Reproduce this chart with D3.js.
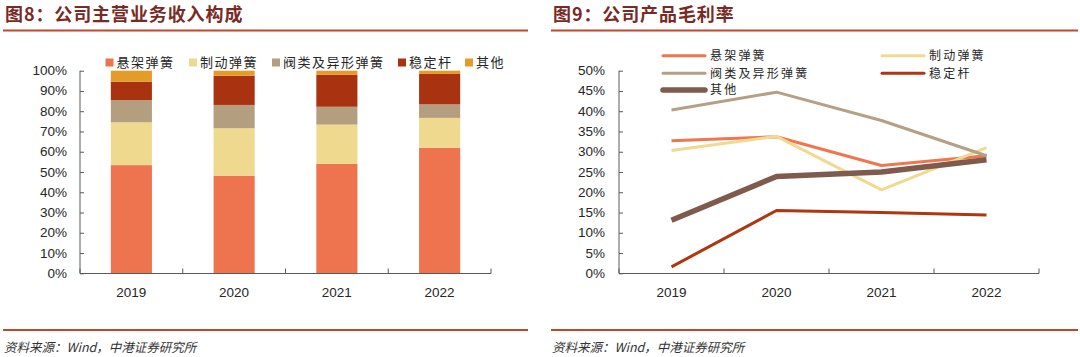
<!DOCTYPE html>
<html><head><meta charset="utf-8">
<script src="https://cdn.jsdelivr.net/npm/d3@7"></script>
<style>
body{margin:0;background:#fff;}
svg{display:block;}
text{font-family:"Liberation Sans",Arial,sans-serif;}
.cjk{font-family:"Noto Sans CJK SC","Liberation Sans",sans-serif;}
</style></head>
<body>
<svg id="c" width="1080" height="357"></svg>
<script>
const years = ["2019","2020","2021","2022"];
const barSeries = ["悬架弹簧","制动弹簧","阀类及异形弹簧","稳定杆","其他"];
const barColors = ["#EE7450","#EFD98F","#B49E80","#A93210","#E49B27"];
const share_suspension = [53.4,48.2,54.0,62.0];
const share_brake = [21.1,23.4,19.4,14.7];
const share_valve = [11.0,11.5,8.8,6.7];
const share_stabilizer = [9.1,14.4,15.8,15.0];
const share_other = [5.4,2.5,2.0,1.6];
const leftTicks = [0,10,20,30,40,50,60,70,80,90,100];

const lineSeries = ["悬架弹簧","制动弹簧","阀类及异形弹簧","稳定杆","其他"];
const lineColors = ["#F07650","#F0DA92","#B5A085","#B0360F","#7E5B4C"];
const lineWidths = [3,3,3,3,5.5];
const margin_suspension = [32.7,33.7,26.6,29.0];
const margin_brake = [30.3,33.8,20.6,31.0];
const margin_valve = [40.3,44.7,37.7,29.0];
const margin_stabilizer = [1.6,15.5,15.0,14.4];
const margin_other = [13.1,23.9,25.0,28.0];
const rightTicks = [0,5,10,15,20,25,30,35,40,45,50];

const svg = d3.select("#c");
const titleColor = "#7A2A24";
const ruleColor = "#C0472C";
const axisColor = "#5A5A5A";
const labelColor = "#262626";

function header(x0, x1, title){
  svg.append("text").attr("class","cjk").attr("x",x0+1).attr("y",21)
    .attr("font-size",18).attr("letter-spacing",0.9).attr("font-weight","bold").attr("fill",titleColor).text(title);
  svg.append("rect").attr("x",x0-1).attr("y",29.5).attr("width",x1-x0+2).attr("height",2).attr("fill",ruleColor);
  svg.append("rect").attr("x",x0-1).attr("y",329).attr("width",x1-x0+2).attr("height",2).attr("fill",ruleColor);
  svg.append("text").attr("class","cjk").attr("x",x0).attr("y",352)
    .attr("font-size",12.5).attr("font-style","italic").attr("fill","#333")
    .text("资料来源：Wind，中港证券研究所");
}
header(4,527,"图8：公司主营业务收入构成");
header(552,1077,"图9：公司产品毛利率");

// ---------- Left stacked bars ----------
{
  const x = d3.scaleBand().domain(years).range([80,491]).paddingInner(0.6).paddingOuter(0.3);
  const y = d3.scaleLinear().domain([0,100]).range([273.3,70.7]);
  const rows = years.map((yr,i)=>({year:yr,
    "悬架弹簧":share_suspension[i],"制动弹簧":share_brake[i],"阀类及异形弹簧":share_valve[i],
    "稳定杆":share_stabilizer[i],"其他":share_other[i]}));
  const stack = d3.stack().keys(barSeries)(rows);
  const g = svg.append("g");
  stack.forEach((s,si)=>{
    g.selectAll(null).data(s).enter().append("rect")
      .attr("x",d=>x(d.data.year)).attr("width",x.bandwidth())
      .attr("y",d=>y(Math.min(d[1],100))).attr("height",d=>y(d[0])-y(Math.min(d[1],100)))
      .attr("fill",barColors[si]);
  });
  const ya = svg.append("g").attr("transform","translate(80,0)")
    .call(d3.axisRight(y).tickValues(leftTicks).tickSize(4).tickFormat(""));
  ya.select(".domain").attr("stroke",axisColor).attr("d",`M0,${y(100)}V${y(0)}`);
  ya.selectAll(".tick line").attr("stroke",axisColor);
  svg.selectAll(null).data(leftTicks).enter().append("text")
    .attr("x",67).attr("y",d=>y(d)+4.5).attr("text-anchor","end")
    .attr("font-size",13.5).attr("fill",labelColor).text(d=>d+"%");
  const step = x.step();
  svg.append("line").attr("x1",80).attr("x2",491).attr("y1",273.5).attr("y2",273.5).attr("stroke",axisColor);
  d3.range(5).forEach(i=>{
    svg.append("line").attr("x1",80+i*step).attr("x2",80+i*step).attr("y1",268.5).attr("y2",273.5).attr("stroke",axisColor);
  });
  svg.selectAll(null).data(years).enter().append("text")
    .attr("x",d=>x(d)+x.bandwidth()/2).attr("y",297).attr("text-anchor","middle")
    .attr("font-size",13.5).attr("fill",labelColor).text(d=>d);
  const lx = [105.5,189,272,398,465];
  barSeries.forEach((s,i)=>{
    svg.append("rect").attr("x",lx[i]).attr("y",58.5).attr("width",8).attr("height",8).attr("fill",barColors[i]);
    svg.append("text").attr("class","cjk").attr("x",lx[i]+11).attr("y",67).attr("font-size",13)
      .attr("letter-spacing",1.5).attr("fill",labelColor).text(s);
  });
}

// ---------- Right line chart ----------
{
  const x = d3.scalePoint().domain(years).range([619,1039]).padding(0.5);
  const y = d3.scaleLinear().domain([0,50]).range([273.3,70.7]);
  const ya = svg.append("g").attr("transform","translate(619,0)")
    .call(d3.axisRight(y).tickValues(rightTicks).tickSize(4).tickFormat(""));
  ya.select(".domain").attr("stroke",axisColor).attr("d",`M0,${y(50)}V${y(0)}`);
  ya.selectAll(".tick line").attr("stroke",axisColor);
  svg.selectAll(null).data(rightTicks).enter().append("text")
    .attr("x",605).attr("y",d=>y(d)+4.5).attr("text-anchor","end")
    .attr("font-size",13.5).attr("fill",labelColor).text(d=>d+"%");
  svg.append("line").attr("x1",619).attr("x2",1039).attr("y1",273.5).attr("y2",273.5).attr("stroke",axisColor);
  const step = x.step();
  d3.range(5).forEach(i=>{
    svg.append("line").attr("x1",619+i*step).attr("x2",619+i*step).attr("y1",268.5).attr("y2",273.5).attr("stroke",axisColor);
  });
  svg.selectAll(null).data(years).enter().append("text")
    .attr("x",d=>x(d)).attr("y",297).attr("text-anchor","middle")
    .attr("font-size",13.5).attr("fill",labelColor).text(d=>d);
  const data = [margin_suspension,margin_brake,margin_valve,margin_stabilizer,margin_other];
  const line = d3.line().x((d,i)=>x(years[i])).y(d=>y(d));
  data.forEach((arr,i)=>{
    svg.append("path").attr("d",line(arr)).attr("fill","none")
      .attr("stroke",lineColors[i]).attr("stroke-width",lineWidths[i]).attr("stroke-linejoin","round");
  });
  const pos = [[663,55.7],[882,55.7],[663,73.3],[882,73.3],[663,90]];
  lineSeries.forEach((s,i)=>{
    const [px,py] = pos[i];
    svg.append("line").attr("x1",px).attr("x2",px+42).attr("y1",py).attr("y2",py)
      .attr("stroke",lineColors[i]).attr("stroke-width",lineWidths[i]).attr("stroke-linecap","round");
    svg.append("text").attr("class","cjk").attr("x",px+47).attr("y",py+4.3).attr("font-size",12)
      .attr("letter-spacing",2.2).attr("fill",labelColor).text(s);
  });
}
</script>
</body></html>
